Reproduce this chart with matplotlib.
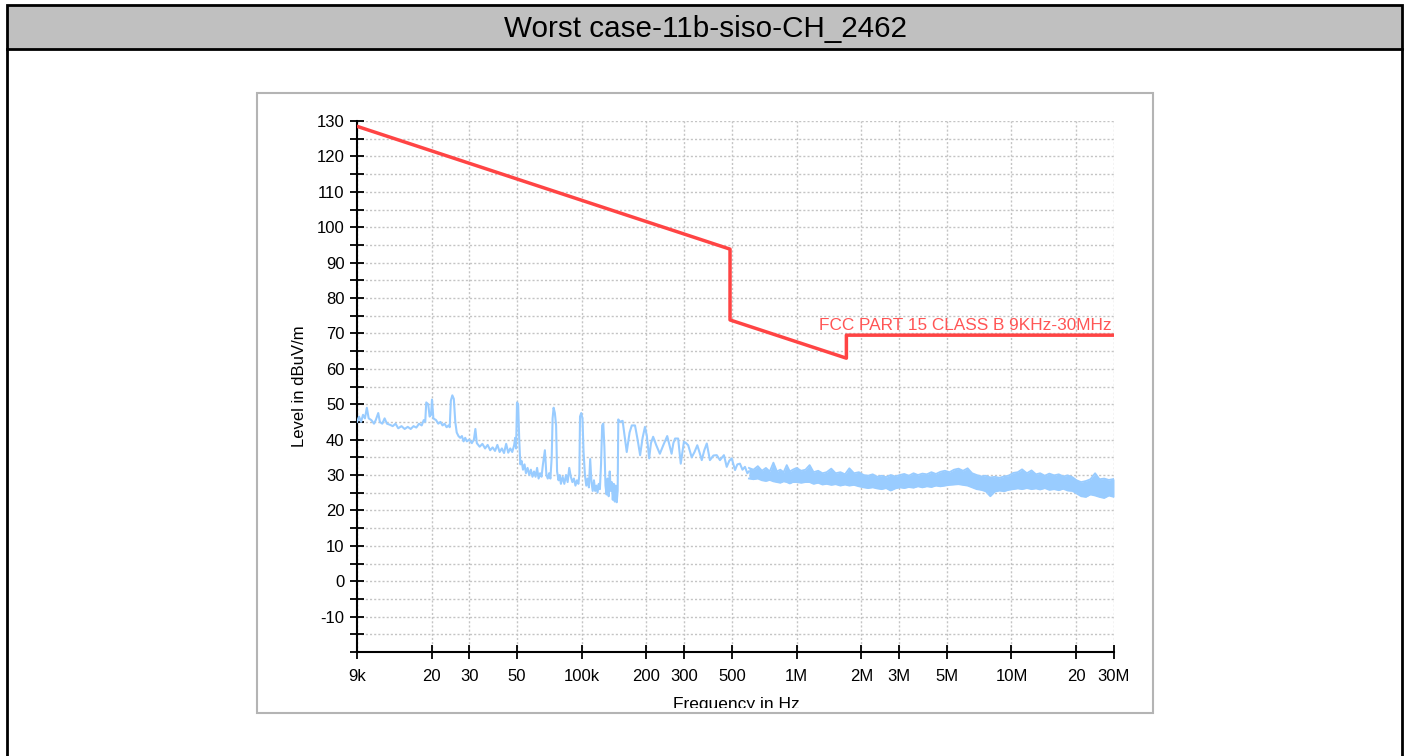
import numpy as np
import matplotlib.pyplot as plt
from matplotlib.patches import Rectangle
from matplotlib.lines import Line2D

plt.rcParams['font.family'] = ['Liberation Sans', 'DejaVu Sans']
plt.rcParams['axes.unicode_minus'] = False

title = 'Worst case-11b-siso-CH_2462'
limit_name = 'FCC PART 15 CLASS B 9KHz-30MHz'

# limit line (Hz, dBuV/m)
limit_f = [9e3, 490e3, 490e3, 1.705e6, 1.705e6, 30e6]
limit_db = [128.5, 93.8, 73.8, 63.0, 69.5, 69.5]

trace_khz = [9.0, 9.2, 9.4, 9.6, 9.8, 10.0, 10.2, 10.5, 10.8, 11.0, 11.3, 11.5, 11.8, 12.1, 12.4,
             12.8, 13.2, 13.6, 14.0, 14.5, 15.0, 15.5, 16.0, 16.5, 17.0, 17.5, 18.0, 18.4, 18.7,
             18.9, 19.3, 19.6, 19.9, 20.1, 20.4, 21.0, 21.5, 22.0, 22.5, 23.0, 23.5, 24.0, 24.3,
             24.6, 25.0, 25.4, 25.8, 26.2, 26.7, 27.2, 27.7, 28.2, 28.7, 29.2, 30.0, 30.8, 31.5,
             32.0, 32.5, 33.5, 34.5, 35.5, 36.5, 37.5, 38.5, 39.5, 40.5, 41.5, 42.5, 43.5, 44.5,
             45.5, 46.5, 47.5, 48.5, 49.0, 49.5, 50.0, 50.6, 51.2, 51.8, 52.5, 53.3, 54.2, 55.0,
             56.0, 57.0, 58.0, 59.0, 60.0, 61.0, 62.0, 63.0, 64.0, 65.0, 66.0, 67.4, 68.5, 69.5,
             70.5, 71.5, 72.5, 73.2, 74.0, 75.0, 76.0, 76.8, 78.0, 79.0, 80.0, 81.5, 83.0, 84.5,
             86.0, 87.5, 89.0, 90.5, 92.0, 93.5, 95.0, 96.5, 97.5, 98.2, 99.5, 100.8, 102.0,
             103.5, 105.0, 106.5, 108.0, 109.5, 111.0, 112.5, 114.0, 115.5, 117.0, 118.5, 120.0,
             121.5, 123.0, 124.5, 126.0, 127.5, 129.0, 130.5, 132.0, 133.5, 135.0, 136.5, 138.0,
             139.5, 141.0, 142.5, 144.0, 145.5, 147.0, 148.0, 150.0, 155.0, 162.0, 167.0, 171.0,
             177.0, 182.0, 187.0, 192.0, 197.0, 201.0, 206.0, 210.0, 215.0, 222.0, 231.0, 240.0,
             250.0, 256.0, 262.0, 267.0, 272.0, 281.0, 289.0, 299.0, 306.0, 313.0, 325.0, 335.0,
             345.0, 355.0, 362.0, 372.0, 382.0, 395.0, 410.0, 425.0, 440.0, 459.0, 473.0, 486.0,
             499.0, 517.0, 530.0, 545.0, 560.0, 575.0, 590.0, 600.0]
trace_db = [45.0, 46.5, 45.0, 47.0, 46.0, 49.0, 46.0, 45.5, 44.5, 45.5, 47.5, 45.0, 44.5, 46.0, 44.5,
            44.2, 43.8, 44.5, 43.2, 43.8, 43.0, 43.6, 43.0, 43.8, 43.4, 44.5, 44.0, 45.5, 45.0,
            50.5, 50.0, 46.5, 47.0, 51.3, 46.0, 45.5, 44.5, 45.0, 44.0, 44.5, 43.5, 44.0, 43.5,
            51.0, 52.5, 51.5, 45.0, 42.0, 41.0, 40.5, 41.0, 39.5, 40.5, 39.5, 40.0, 39.0, 40.0,
            43.0, 39.0, 38.0, 38.8, 37.5, 38.5, 37.0, 37.8, 36.8, 38.5, 36.5, 37.5, 36.2, 38.8,
            36.3, 37.5, 36.5, 38.5, 40.5, 37.5, 50.5, 50.0, 40.0, 33.0, 34.0, 31.5, 33.0, 30.5,
            32.0, 30.0, 31.5, 29.5, 31.0, 29.5, 32.0, 29.0, 30.5, 29.5, 33.0, 37.0, 30.0, 29.0,
            30.5, 29.0, 35.0, 46.0, 49.0, 47.5, 44.0, 31.0, 28.5, 30.0, 27.5, 29.5, 27.5, 30.0,
            28.0, 32.0, 29.5, 28.0, 29.0, 27.0, 28.5, 27.5, 30.0, 46.5, 47.5, 46.0, 36.5,
            30.0, 27.0, 29.0, 26.5, 34.5, 28.0, 25.5, 28.5, 25.5, 27.0, 25.0, 27.5,
            26.0, 33.0, 44.0, 44.5, 38.0, 27.0, 24.5, 29.0, 24.0, 31.0, 25.5, 28.0,
            23.0, 27.5, 22.5, 27.0, 22.3, 25.5, 45.7, 45.0, 45.3, 36.5, 42.0, 44.0,
            44.0, 40.0, 35.6, 40.5, 43.6, 41.0, 34.7, 39.0, 40.8, 38.5, 36.0, 38.5,
            41.0, 38.5, 36.0, 39.0, 40.3, 40.3, 33.2, 39.4, 39.0, 38.4, 35.0, 36.5,
            38.4, 36.0, 34.2, 37.0, 38.9, 34.2, 35.5, 35.6, 34.2, 35.6, 32.3, 34.0,
            34.7, 31.4, 33.0, 33.2, 31.5, 32.3, 30.5, 31.0]

# dense part 600 kHz .. 30 MHz drawn as band (MHz, upper and lower edge)
band_mhz = [0.60, 0.63, 0.66, 0.69, 0.72, 0.75, 0.78, 0.81, 0.84, 0.87, 0.90, 0.93, 0.96, 1.00,
            1.05, 1.10, 1.15, 1.20, 1.26, 1.32, 1.38, 1.45, 1.52, 1.60, 1.68, 1.76, 1.85, 1.95,
            2.05, 2.15, 2.26, 2.37, 2.49, 2.61, 2.74, 2.88, 3.02, 3.17, 3.33, 3.50, 3.67, 3.85,
            4.04, 4.24, 4.45, 4.67, 4.90, 5.15, 5.40, 5.67, 5.95, 6.25, 6.56, 6.89, 7.23, 7.59,
            7.97, 8.37, 8.79, 9.23, 9.69, 10.2, 10.7, 11.2, 11.8, 12.4, 13.0, 13.6, 14.3, 15.0,
            15.8, 16.6, 17.4, 18.3, 19.2, 20.1, 21.1, 22.2, 23.3, 24.5, 25.7, 27.0, 28.4, 30.0]
band_hi = [32.0, 31.5, 32.5, 31.2, 32.0, 31.0, 33.5, 31.0, 31.5, 30.8, 32.8, 31.0, 31.5, 32.0,
           31.2, 31.5, 32.8, 30.8, 31.2, 30.5, 30.8, 31.8, 30.5, 30.8, 30.2, 31.9, 30.5, 30.8,
           30.0, 29.8, 30.2, 29.5, 29.8, 29.4, 30.0, 29.6, 30.0, 30.3, 29.8, 30.5, 30.0, 30.4,
           30.2, 30.8, 30.3, 30.9, 31.2, 30.8, 31.5, 31.8, 31.2, 31.9, 30.5, 30.0, 29.6, 29.8,
           29.3, 29.5, 29.2, 29.6, 29.8, 30.6, 30.8, 31.6, 30.5, 31.3, 30.2, 30.5, 29.8, 30.4,
           29.9, 30.2, 29.6, 29.9, 29.4, 28.5, 28.0, 28.3, 28.8, 30.5, 28.8, 29.0, 28.6, 28.9]
band_lo = [29.0, 28.8, 29.0, 28.5, 28.3, 28.6, 28.2, 28.0, 27.8, 28.2, 28.0, 27.6, 28.0, 28.0,
           27.8, 28.0, 28.0, 27.5, 27.8, 27.3, 27.5, 27.2, 27.4, 27.0, 27.3, 27.0, 27.2, 26.8,
           26.5, 26.3, 26.5, 26.2, 26.0, 26.3, 25.6, 26.2, 26.5, 26.3, 26.6, 26.4, 26.8, 26.5,
           26.8, 26.6, 27.0, 26.8, 27.0, 27.2, 27.3, 27.4, 27.2, 27.0, 26.5, 26.0, 25.8, 25.4,
           24.0, 25.3, 25.6, 25.4, 25.8, 26.0, 26.2, 26.0, 26.3, 26.0, 26.2, 25.9, 26.3, 25.8,
           26.0, 25.7, 26.1, 25.6, 25.5, 24.8, 24.0, 23.8, 24.5, 24.2, 23.8, 23.5, 24.2, 23.8]

xtick_hz = [9e3, 20e3, 30e3, 50e3, 100e3, 200e3, 300e3, 500e3, 1e6, 2e6, 3e6, 5e6, 10e6, 20e6, 30e6]
xtick_lab = ['9k', '20', '30', '50', '100k', '200', '300', '500', '1M', '2M', '3M', '5M', '10M', '20', '30M']
ytick_major = list(range(-10, 140, 10))

W, H = 1408, 756
fig = plt.figure(figsize=(W / 100, H / 100), dpi=100)


def fx(x):
    return x / W


def fy(y):
    return 1 - y / H


# outer frame and title bar
fig.add_artist(Rectangle((fx(7), fy(49)), fx(1402) - fx(7), fy(5) - fy(49), transform=fig.transFigure,
                         facecolor='#c0c0c0', edgecolor='black', linewidth=2, zorder=-2))
for xs, ys in [([7, 7], [49, 760]), ([1402, 1402], [49, 760])]:
    fig.add_artist(Line2D([fx(v) for v in xs], [fy(v) for v in ys], transform=fig.transFigure,
                          color='black', linewidth=2, zorder=-2))
fig.text(fx(706), fy(29), title, ha='center', va='center', fontsize=21.3)

# chart panel
panel = Rectangle((fx(257), fy(713)), fx(1153) - fx(257), fy(93) - fy(713), transform=fig.transFigure,
                  facecolor='white', edgecolor='#b4b4b4', linewidth=1.5, zorder=-1)
fig.add_artist(panel)
# the axis title is cut off a bit above the panel edge
clip = Rectangle((fx(257), fy(708)), fx(1153) - fx(257), fy(93) - fy(708), transform=fig.transFigure,
                 visible=False)
fig.add_artist(clip)

ax = fig.add_axes([fx(357), fy(652), fx(1114) - fx(357), fy(121) - fy(652)])
ax.patch.set_alpha(0)
ax.set_xscale('log')
ax.set_xlim(9e3, 30e6)
ax.set_ylim(-20, 130)

ax.fill_between(np.array(band_mhz) * 1e6, band_lo, band_hi, color='#99ccff', linewidth=0, zorder=3)
ax.plot(np.array(band_mhz) * 1e6, band_hi, color='#99ccff', linewidth=1.3, zorder=3)
ax.plot(np.array(band_mhz) * 1e6, band_lo, color='#99ccff', linewidth=1.3, zorder=3)
ax.plot(np.array(trace_khz) * 1e3, trace_db, color='#99ccff', linewidth=1.5, zorder=3)

ax.plot(limit_f, limit_db, color='#ff4444', linewidth=2.5, zorder=4)
ax.text(29.4e6, 70.2, limit_name, color='#ff5555', fontsize=12.4, ha='right', va='bottom', zorder=5)

ax.set_xticks(xtick_hz)
ax.set_xticklabels(xtick_lab)
ax.xaxis.set_minor_locator(plt.NullLocator())
ax.set_yticks(list(range(-20, 135, 5)), minor=True)
ax.set_yticks(ytick_major)
ax.tick_params(axis='x', which='major', direction='inout', length=10, width=1.3, pad=7, labelsize=12)
ax.tick_params(axis='y', which='both', direction='inout', length=10, width=1.3, pad=4, labelsize=12)

ax.grid(True, which='both', axis='y', color='#c4c4c4', linestyle=(0, (1.5, 1.5)), linewidth=1)
ax.grid(True, which='major', axis='x', color='#c4c4c4', linestyle=(0, (1.5, 1.5)), linewidth=1)
ax.set_axisbelow(True)

for s in ['top', 'right']:
    ax.spines[s].set_visible(False)
for s in ['left', 'bottom']:
    ax.spines[s].set_linewidth(1.5)
    ax.spines[s].set_color('black')

ax.set_ylabel('Level in dBuV/m', fontsize=12, va='center')
ax.yaxis.set_label_coords((299 - 357) / 757, 0.5)
ax.set_xlabel('Frequency in Hz', fontsize=12.5, va='center')
ax.xaxis.set_label_coords((736 - 357) / 757, (652 - 704) / 531)
ax.xaxis.label.set_clip_path(clip)

fig.savefig('out.png', dpi=100)
